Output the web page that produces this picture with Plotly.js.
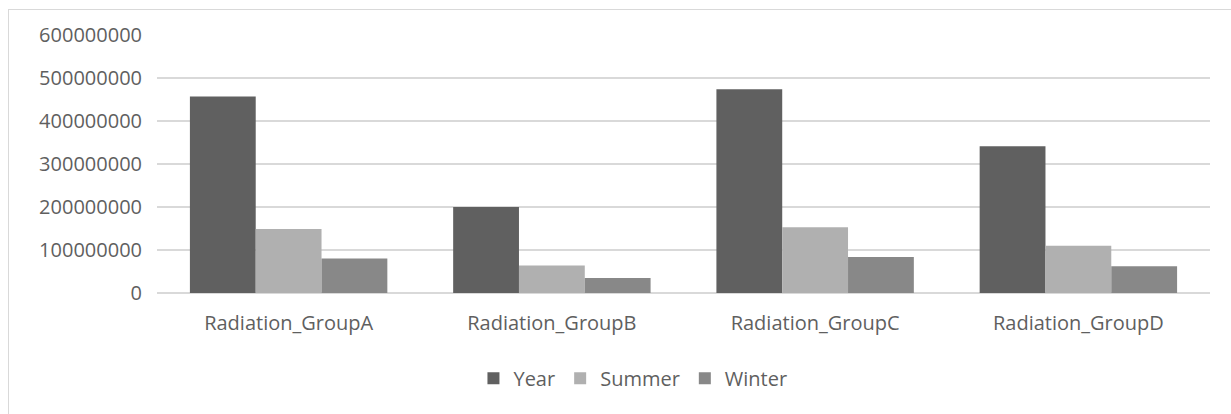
<!DOCTYPE html>
<html>
<head>
<meta charset="utf-8">
<script src="https://cdn.plot.ly/plotly-3.0.1.min.js"></script>
<style>
  html, body { margin: 0; padding: 0; background: #ffffff; overflow: hidden; }
  #frame { position: absolute; left: 8px; top: 9px; width: 1223px; height: 405px;
           border-left: 1px solid #d9d9d9; border-top: 1px solid #d9d9d9; }
  #chart { position: absolute; left: 0; top: 0; width: 1231px; height: 414px; }
</style>
</head>
<body>
<div id="frame"></div>
<div id="chart"></div>
<script>
const categories = ["Radiation_GroupA", "Radiation_GroupB", "Radiation_GroupC", "Radiation_GroupD"];
const yearValues = [457000000, 200000000, 474000000, 341000000];
const summerValues = [149000000, 64000000, 153000000, 110000000];
const winterValues = [80000000, 35000000, 84000000, 62000000];
const tickValues = [0, 100000000, 200000000, 300000000, 400000000, 500000000, 600000000];
const tickLabels = ["0", "100000000", "200000000", "300000000", "400000000", "500000000", "600000000"];

const font = { family: "Open Sans, sans-serif", size: 20, color: "#5f5f5f" };

const traces = [
  { type: "bar", name: "Year", x: categories, y: yearValues, marker: { color: "#606060" } },
  { type: "bar", name: "Summer", x: categories, y: summerValues, marker: { color: "#b0b0b0" } },
  { type: "bar", name: "Winter", x: categories, y: winterValues, marker: { color: "#888888" } }
];

const layout = {
  width: 1231, height: 414,
  margin: { l: 157, r: 21, t: 35, b: 121, pad: 0 },
  paper_bgcolor: "rgba(0,0,0,0)",
  plot_bgcolor: "rgba(0,0,0,0)",
  font: font,
  barmode: "group",
  bargap: 0.25,
  bargroupgap: 0,
  showlegend: true,
  legend: {
    orientation: "h", x: 0.452, xanchor: "center", y: -0.33, yanchor: "middle",
    font: font, itemwidth: 30, traceorder: "normal"
  },
  xaxis: {
    type: "category", showgrid: false, showline: false, zeroline: false,
    ticks: "", tickfont: font, ticklabelstandoff: 16
  },
  yaxis: {
    range: [0, 600000000], tickmode: "array", tickvals: tickValues, ticktext: tickLabels,
    showgrid: true, gridcolor: "#d9d9d9", gridwidth: 1.5,
    zeroline: true, zerolinecolor: "#d9d9d9", zerolinewidth: 1.5,
    showline: false, ticks: "", tickfont: font, ticklabelstandoff: 14
  }
};

Plotly.newPlot("chart", traces, layout, { displayModeBar: false, staticPlot: true });
</script>
</body>
</html>
